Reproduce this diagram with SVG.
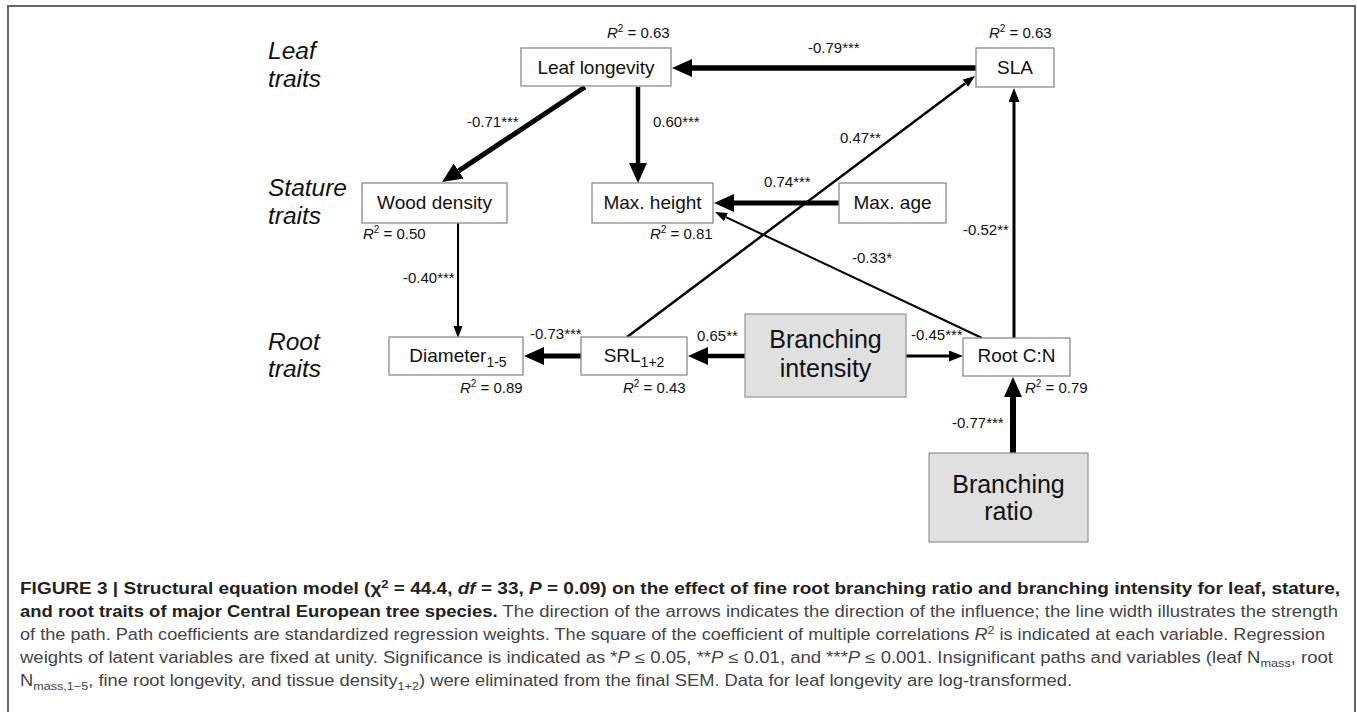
<svg xmlns="http://www.w3.org/2000/svg" width="1357" height="712" viewBox="0 0 1357 712">
<style>
  .frame{fill:#fff;stroke:#666;stroke-width:2}
  .box{fill:#fff;stroke:#8a8a8a;stroke-width:1.3}
  .lat{fill:#e0e0e0;stroke:#9a9a9a;stroke-width:1.3}
  .nt{font-family:"Liberation Sans",Arial,sans-serif;font-size:19px;fill:#111;text-anchor:middle}
  .lt{font-family:"Liberation Sans",Arial,sans-serif;font-size:25px;fill:#111;text-anchor:middle}
  .sub{font-size:14px}
  .tr{font-family:"Liberation Sans",Arial,sans-serif;font-size:24.5px;font-style:italic;fill:#111}
  .r2{font-family:"Liberation Sans",Arial,sans-serif;font-size:15px;fill:#111}
  .co{font-family:"Liberation Sans",Arial,sans-serif;font-size:15px;fill:#111}
  .it{font-style:italic}
  .sup{font-size:10px}
  .edge{fill:none;stroke:#000}
  .cap{font-family:"Liberation Sans",Arial,sans-serif;font-size:16px;fill:#444}
  .capb{font-weight:bold;fill:#222}
  .cs{font-size:11px}
</style>
<defs>
  <marker id="hb" markerUnits="userSpaceOnUse" markerWidth="22" markerHeight="20" refX="0" refY="9" orient="auto">
    <path d="M0,0 L20,9 L0,18 Z" fill="#000"/>
  </marker>
  <marker id="hm" markerUnits="userSpaceOnUse" markerWidth="16" markerHeight="12" refX="0" refY="5.5" orient="auto">
    <path d="M0,0 L14,5.5 L0,11 Z" fill="#000"/>
  </marker>
  <marker id="hs" markerUnits="userSpaceOnUse" markerWidth="14" markerHeight="10" refX="0" refY="4.5" orient="auto">
    <path d="M0,0 L12,4.5 L0,9 Z" fill="#000"/>
  </marker>
</defs>

<rect class="frame" x="8" y="6" width="1347" height="720"/>

<g id="trait-labels">
  <text class="tr" x="268" y="59">Leaf</text>
  <text class="tr" x="268" y="87">traits</text>
  <text class="tr" x="268" y="196">Stature</text>
  <text class="tr" x="268" y="224">traits</text>
  <text class="tr" x="268" y="350">Root</text>
  <text class="tr" x="268" y="377">traits</text>
</g>

<g id="connectors">
  <line class="edge" x1="976" y1="68" x2="692" y2="68" stroke-width="5.5" marker-end="url(#hb)"/>
  <line class="edge" x1="585" y1="87" x2="458.7" y2="170.9" stroke-width="5" marker-end="url(#hb)"/>
  <line class="edge" x1="638" y1="87" x2="638" y2="163" stroke-width="4.5" marker-end="url(#hb)"/>
  <line class="edge" x1="839" y1="203" x2="734" y2="203" stroke-width="5" marker-end="url(#hb)"/>
  <line class="edge" x1="458" y1="223" x2="458" y2="326" stroke-width="2" marker-end="url(#hs)"/>
  <line class="edge" x1="581" y1="356" x2="544" y2="356" stroke-width="5" marker-end="url(#hb)"/>
  <line class="edge" x1="745" y1="356" x2="708" y2="356" stroke-width="4.5" marker-end="url(#hb)"/>
  <line class="edge" x1="906" y1="356" x2="949" y2="356" stroke-width="3" marker-end="url(#hm)"/>
  <line class="edge" x1="1014" y1="338" x2="1014" y2="102" stroke-width="3" marker-end="url(#hm)"/>
  <line class="edge" x1="627" y1="337" x2="965.4" y2="83.2" stroke-width="2.5" marker-end="url(#hs)"/>
  <line class="edge" x1="982" y1="338" x2="725.9" y2="217.1" stroke-width="2" marker-end="url(#hs)"/>
  <line class="edge" x1="1013" y1="453" x2="1013" y2="397" stroke-width="6" marker-end="url(#hb)"/>
</g>

<g id="coefficients">
  <text class="co" x="808" y="53">-0.79***</text>
  <text class="co" x="467" y="127">-0.71***</text>
  <text class="co" x="653" y="127">0.60***</text>
  <text class="co" x="840" y="143">0.47**</text>
  <text class="co" x="764" y="187">0.74***</text>
  <text class="co" x="963" y="235">-0.52**</text>
  <text class="co" x="852" y="263">-0.33*</text>
  <text class="co" x="403" y="283">-0.40***</text>
  <text class="co" x="530" y="339">-0.73***</text>
  <text class="co" x="697" y="341">0.65**</text>
  <text class="co" x="911" y="340">-0.45***</text>
  <text class="co" x="952" y="428">-0.77***</text>
</g>

<g id="leaf-longevity">
  <rect class="box" x="521" y="48" width="150" height="38"/>
  <text class="nt" x="596" y="74">Leaf longevity</text>
  <text class="r2" x="607" y="38"><tspan class="it">R</tspan><tspan class="sup" dy="-6">2</tspan><tspan dy="6"> = 0.63</tspan></text>
</g>

<g id="sla">
  <rect class="box" x="976" y="48" width="78" height="39"/>
  <text class="nt" x="1015" y="74">SLA</text>
  <text class="r2" x="989" y="38"><tspan class="it">R</tspan><tspan class="sup" dy="-6">2</tspan><tspan dy="6"> = 0.63</tspan></text>
</g>

<g id="wood-density">
  <rect class="box" x="362" y="183" width="145" height="40"/>
  <text class="nt" x="434.5" y="209">Wood density</text>
  <text class="r2" x="363" y="239"><tspan class="it">R</tspan><tspan class="sup" dy="-6">2</tspan><tspan dy="6"> = 0.50</tspan></text>
</g>

<g id="max-height">
  <rect class="box" x="592" y="183" width="121" height="40"/>
  <text class="nt" x="652.5" y="209">Max. height</text>
  <text class="r2" x="650" y="239"><tspan class="it">R</tspan><tspan class="sup" dy="-6">2</tspan><tspan dy="6"> = 0.81</tspan></text>
</g>

<g id="max-age">
  <rect class="box" x="839" y="183" width="107" height="40"/>
  <text class="nt" x="892.5" y="209">Max. age</text>
</g>

<g id="diameter">
  <rect class="box" x="389" y="337" width="134" height="38"/>
  <text class="nt" x="458" y="362">Diameter<tspan class="sub" dy="5">1-5</tspan></text>
  <text class="r2" x="460" y="393"><tspan class="it">R</tspan><tspan class="sup" dy="-6">2</tspan><tspan dy="6"> = 0.89</tspan></text>
</g>

<g id="srl">
  <rect class="box" x="581" y="337" width="106" height="38"/>
  <text class="nt" x="634" y="362">SRL<tspan class="sub" dy="5">1+2</tspan></text>
  <text class="r2" x="623" y="393"><tspan class="it">R</tspan><tspan class="sup" dy="-6">2</tspan><tspan dy="6"> = 0.43</tspan></text>
</g>

<g id="branching-intensity">
  <rect class="lat" x="745" y="314" width="161" height="83"/>
  <text class="lt" x="825.5" y="348">Branching</text>
  <text class="lt" x="825.5" y="377">intensity</text>
</g>

<g id="root-cn">
  <rect class="box" x="963" y="338" width="107" height="38"/>
  <text class="nt" x="1016.5" y="362">Root C:N</text>
  <text class="r2" x="1025" y="393"><tspan class="it">R</tspan><tspan class="sup" dy="-6">2</tspan><tspan dy="6"> = 0.79</tspan></text>
</g>

<g id="branching-ratio">
  <rect class="lat" x="929" y="453" width="159" height="89"/>
  <text class="lt" x="1008.5" y="493">Branching</text>
  <text class="lt" x="1008.5" y="520">ratio</text>
</g>

<g id="caption">
  <text class="cap capb" x="20" y="594" textLength="1320" lengthAdjust="spacingAndGlyphs">FIGURE 3 | Structural equation model (χ<tspan class="cs" dy="-6">2</tspan><tspan dy="6"> = 44.4, </tspan><tspan class="it">df</tspan> = 33, <tspan class="it">P</tspan> = 0.09) on the effect of fine root branching ratio and branching intensity for leaf, stature,</text>
  <text class="cap" x="20" y="617" textLength="1318" lengthAdjust="spacingAndGlyphs"><tspan class="capb">and root traits of major Central European tree species.</tspan> The direction of the arrows indicates the direction of the influence; the line width illustrates the strength</text>
  <text class="cap" x="20" y="640" textLength="1305" lengthAdjust="spacingAndGlyphs">of the path. Path coefficients are standardized regression weights. The square of the coefficient of multiple correlations <tspan class="it">R</tspan><tspan class="cs" dy="-6">2</tspan><tspan dy="6"> is indicated at each variable. Regression</tspan></text>
  <text class="cap" x="20" y="663" textLength="1313" lengthAdjust="spacingAndGlyphs">weights of latent variables are fixed at unity. Significance is indicated as *<tspan class="it">P</tspan> ≤ 0.05, **<tspan class="it">P</tspan> ≤ 0.01, and ***<tspan class="it">P</tspan> ≤ 0.001. Insignificant paths and variables (leaf N<tspan class="cs" dy="4">mass</tspan><tspan dy="-4">, root</tspan></text>
  <text class="cap" x="20" y="686" textLength="1052" lengthAdjust="spacingAndGlyphs">N<tspan class="cs" dy="4">mass,1−5</tspan><tspan dy="-4">, fine root longevity, and tissue density</tspan><tspan class="cs" dy="4">1+2</tspan><tspan dy="-4">) were eliminated from the final SEM. Data for leaf longevity are log-transformed.</tspan></text>
</g>
</svg>
